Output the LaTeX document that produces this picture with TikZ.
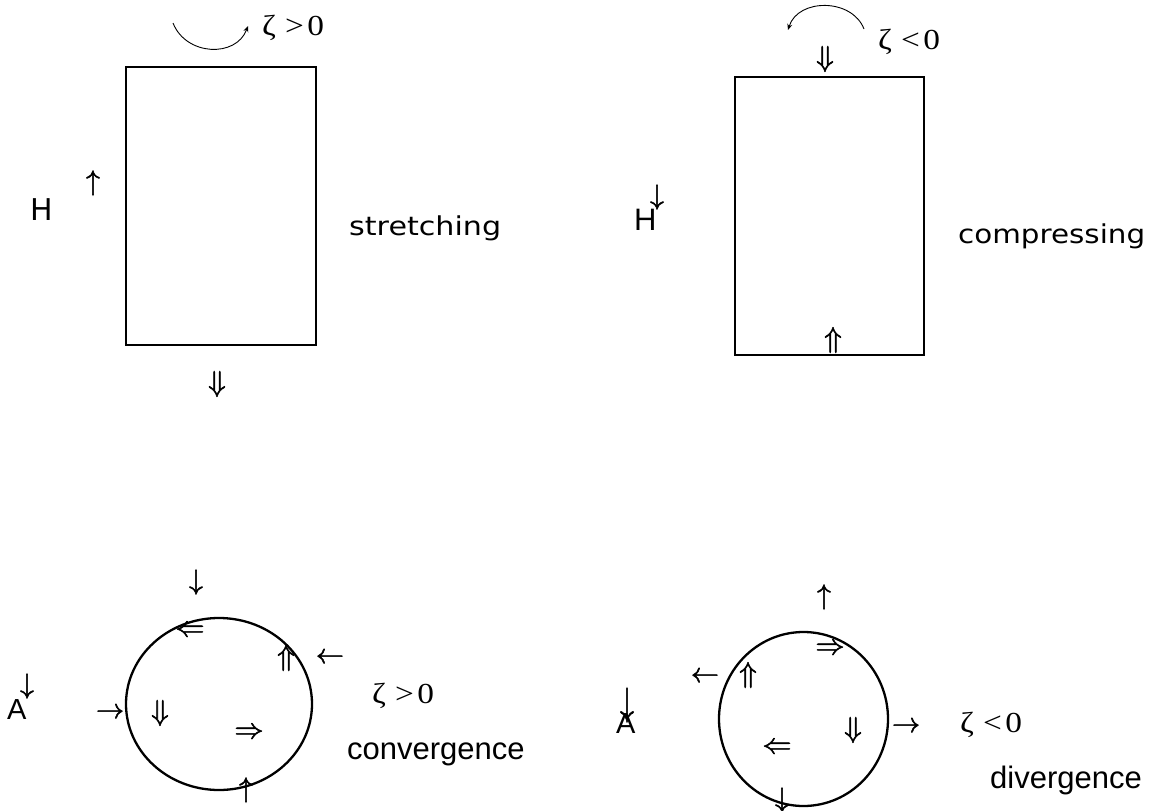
\RequirePackage{fix-cm}
\documentclass[tikz,border=0pt]{standalone}
\usepackage{fontspec}
\usepackage{graphicx}
\usetikzlibrary{arrows.meta,shapes.geometric}
\newfontfamily\genevafont{DejaVu Sans}
\newfontfamily\arialfont{Liberation Sans}
\newfontfamily\timesfont{Liberation Serif}
\newcommand\thickglyph[1]{\special{pdf:literal direct 2 Tr 0.55 w}#1\special{pdf:literal direct 0 Tr}}
\newcommand\zetalabel[1]{\scalebox{1.15}[1]{ζ\hspace{8pt}#1\hspace{3pt}0}}
\tikzset{
  glyph/.style={inner sep=0pt, font=\fontsize{28}{32}\selectfont},
  dglyph/.style={inner sep=0pt, font=\fontsize{29}{33}\selectfont},
  gword/.style={inner sep=0pt, anchor=base west, font=\genevafont\fontsize{26}{30}\selectfont},
  aword/.style={inner sep=0pt, anchor=base west, font=\arialfont\fontsize{31}{36}\selectfont},
  zlabel/.style={inner sep=0pt, anchor=base west, font=\timesfont\fontsize{29}{33}\selectfont},
  boxshape/.style={draw, line width=2.3pt, inner sep=0pt},
  blob/.style={draw, line width=2.3pt, ellipse, inner sep=0pt},
  turn/.style={line width=0.9pt, -{Stealth[length=6pt,width=5pt]}}
}
\begin{document}
\begin{tikzpicture}[x=1pt,y=-1pt]
\fill[white] (0,0) rectangle (1152,811);
\useasboundingbox (0,0) rectangle (1152,811);

% ---------- stretching ----------
\node[boxshape, minimum width=190pt, minimum height=278pt] (r1) at (221,206) {};
\coordinate (c1s) at (173,23);
\coordinate (c1e) at (248,26);
\draw[turn] (c1s) .. controls (186,56) and (236,58) .. (c1e);
\node[zlabel] (z1) at (262,35) {\zetalabel{>}};
\node[gword, font=\genevafont\fontsize{30}{34}\selectfont] (H1) at (30,220) {H};
\node[glyph] (u1) at (93,183) {\thickglyph{$\uparrow$}};
\node[dglyph] (d1) at (217,384) {\thickglyph{$\Downarrow$}};
\node[gword] (s1) at (349,235) {\scalebox{1.16}[1]{stretching}};

% ---------- compressing ----------
\node[boxshape, minimum width=189pt, minimum height=278pt] (r2) at (829.5,216) {};
\coordinate (c2s) at (864,29);
\coordinate (c2e) at (788,30);
\draw[turn] (c2s) .. controls (852,-2) and (798,-2) .. (c2e);
\node[zlabel] (z2) at (878,49) {\zetalabel{<}};
\node[dglyph] (d2) at (825,59) {\thickglyph{$\Downarrow$}};
\node[dglyph] (u2) at (833,340) {\thickglyph{$\Uparrow$}};
\node[aword] (H2) at (634,230) {H};
\node[glyph] (h2a) at (657,197) {\thickglyph{$\downarrow$}};
\node[gword] (s2) at (958,243) {\scalebox{1.13}[1]{compressing}};

% ---------- convergence ----------
\node[blob, minimum width=186pt, minimum height=172pt] (e1) at (219,704) {};
\node[glyph] (a1) at (196,582) {\thickglyph{$\downarrow$}};
\node[dglyph] (a2) at (190,631) {\thickglyph{$\Leftarrow$}};
\node[dglyph] (a3) at (286,658) {\thickglyph{$\Uparrow$}};
\node[glyph] (a4) at (330,658) {\thickglyph{$\leftarrow$}};
\node[aword, font=\arialfont\fontsize{29}{34}\selectfont] (A1) at (7,719) {A};
\node[glyph] (a5) at (27,686) {\thickglyph{$\downarrow$}};
\node[glyph] (a6) at (110,713) {\thickglyph{$\rightarrow$}};
\node[dglyph] (a7) at (160,713) {\thickglyph{$\Downarrow$}};
\node[dglyph] (a8) at (249,733) {\thickglyph{$\Rightarrow$}};
\node[glyph] (a9) at (246,790) {\thickglyph{$\uparrow$}};
\node[zlabel] (z3) at (372,703) {\zetalabel{>}};
\node[aword] (w3) at (347,759) {convergence};

% ---------- divergence ----------
\node[blob, minimum width=169pt, minimum height=174pt] (e2) at (803.5,719) {};
\node[glyph] (b1) at (824,597) {\thickglyph{$\uparrow$}};
\node[dglyph] (b2) at (830,649) {\thickglyph{$\Rightarrow$}};
\node[glyph] (b3) at (705,677) {\thickglyph{$\leftarrow$}};
\node[dglyph] (b4) at (748,675) {\thickglyph{$\Uparrow$}};
\node[aword, font=\arialfont\fontsize{29}{34}\selectfont] (A2) at (616,733) {A};
\node[glyph] (b5) at (627,705) {\scalebox{1}[1.4]{\thickglyph{$\downarrow$}}};
\node[dglyph] (b6) at (853,730) {\thickglyph{$\Downarrow$}};
\node[glyph] (b7) at (906,727) {\thickglyph{$\rightarrow$}};
\node[dglyph] (b8) at (777,748) {\thickglyph{$\Leftarrow$}};
\node[glyph] (b9) at (782,800) {\thickglyph{$\downarrow$}};
\node[zlabel] (z4) at (960,732) {\zetalabel{<}};
\node[aword] (w4) at (990,788) {divergence};
\end{tikzpicture}
\end{document}
